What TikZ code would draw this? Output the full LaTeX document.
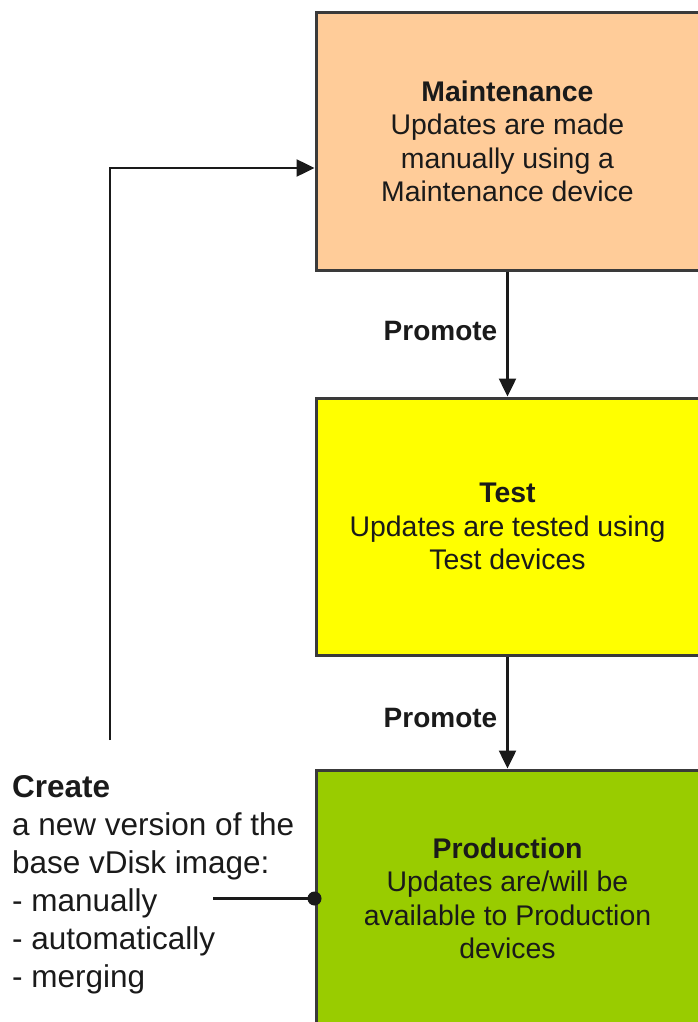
\documentclass[tikz,border=0pt]{standalone}
\usepackage{fontspec}
\setmainfont{Liberation Sans}
\usetikzlibrary{arrows.meta}
\definecolor{peach}{HTML}{FFCC99}
\definecolor{yel}{HTML}{FFFF00}
\definecolor{grn}{HTML}{99CC00}
\definecolor{edgegray}{HTML}{3A3A3A}
\definecolor{ink}{HTML}{1A1A1A}
\begin{document}
\begin{tikzpicture}[x=1pt,y=-1pt,
  stage/.style={draw=edgegray, line width=3pt, minimum width=383pt, minimum height=257pt, inner sep=0pt, align=center, text=ink, font=\fontsize{28.4}{33.5}\selectfont},
  conn/.style={line width=2.5pt, draw=ink, -{Triangle[length=18pt,width=17pt]}},
  lbl/.style={font=\fontsize{28}{33}\selectfont\bfseries, text=ink, anchor=east, inner sep=0pt, xshift=-9pt},
  note/.style={font=\fontsize{31.5}{38}\selectfont, text=ink, align=left, inner sep=0pt, anchor=north west}
]
\useasboundingbox (0,0) rectangle (697,1022);
\node[stage, fill=peach] (m) at (507.5,141.5) {\textbf{Maintenance}\\Updates are made\\manually using a\\Maintenance device};
\node[stage, fill=yel] (t) at (507.5,526.5) {\textbf{Test}\\Updates are tested using\\Test devices};
\node[stage, fill=grn] (p) at (507.5,898.5) {\textbf{Production}\\Updates are/will be\\available to Production\\devices};
\draw[conn] (m) -- node[lbl, pos=0.48] {Promote} (t);
\draw[conn] (t) -- node[lbl, pos=0.55] {Promote} (p);
\node[note] (c) at (12,775) {\textbf{Create}\\a new version of the\\base vDisk image:\\- manually\\- automatically\\- merging};
\coordinate (s) at (110,740);
\coordinate (d) at (213,898.5);
\draw[conn] (s) |- ([yshift=-26.5pt]m.west);
\draw[line width=2.5pt, draw=ink] (d) -- (p.west);
\fill[ink] (p.west) circle (7pt);
\end{tikzpicture}
\end{document}
